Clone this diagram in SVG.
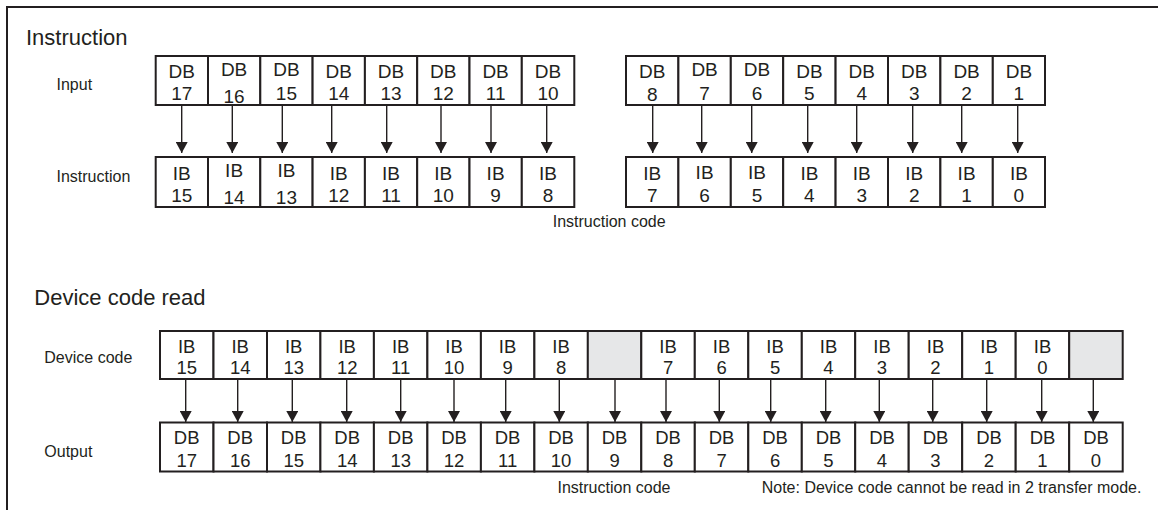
<svg xmlns="http://www.w3.org/2000/svg" width="1158" height="510" viewBox="0 0 1158 510">
<style>
text{font-family:"Liberation Sans",Arial,sans-serif;fill:#231f20}
.t{font-size:22px}
.l{font-size:16px}
.b{font-size:19px;text-anchor:middle}
.d{font-size:18.5px;text-anchor:middle}
.box{fill:#fff;stroke:#231f20;stroke-width:2}
.g{fill:#e6e7e8;stroke:#231f20;stroke-width:2}
.a{stroke:#231f20;stroke-width:1.4;fill:none;marker-end:url(#ah)}
</style>
<defs>
<marker id="ah" markerUnits="userSpaceOnUse" markerWidth="11" markerHeight="12" viewBox="0 0 11 12" refX="11" refY="6" orient="auto">
<path d="M0,0 L11,6 L0,12 Z" fill="#231f20"/>
</marker>
</defs>
<path d="M7,510 V7 H1158" fill="none" stroke="#231f20" stroke-width="2"/>
<text class="t" x="26" y="45">Instruction</text>
<text class="l" x="56.5" y="90">Input</text>
<text class="l" x="56.5" y="182">Instruction</text>
<text class="l" x="552.7" y="226.5">Instruction code</text>
<text class="t" x="34.3" y="305">Device code read</text>
<text class="l" x="44.3" y="363">Device code</text>
<text class="l" x="44.3" y="457">Output</text>
<text class="l" x="557.5" y="493">Instruction code</text>
<text class="l" x="761.7" y="493">Note: Device code cannot be read in 2 transfer mode.</text>

<g id="input-row">
<g id="in-db17"><rect class="box" x="155.7" y="56" width="52.3" height="49"/><text class="b" x="181.8" y="78">DB</text><text class="b" x="181.8" y="100">17</text></g>
<g id="in-db16"><rect class="box" x="208" y="56" width="52.3" height="49"/><text class="b" x="234.1" y="76">DB</text><text class="b" x="234.1" y="103">16</text></g>
<g id="in-db15"><rect class="box" x="260.3" y="56" width="52.3" height="49"/><text class="b" x="286.4" y="76">DB</text><text class="b" x="286.4" y="99.5">15</text></g>
<g id="in-db14"><rect class="box" x="312.6" y="56" width="52.3" height="49"/><text class="b" x="338.7" y="78">DB</text><text class="b" x="338.7" y="100">14</text></g>
<g id="in-db13"><rect class="box" x="364.9" y="56" width="52.3" height="49"/><text class="b" x="391" y="78">DB</text><text class="b" x="391" y="100">13</text></g>
<g id="in-db12"><rect class="box" x="417.2" y="56" width="52.3" height="49"/><text class="b" x="443.3" y="78">DB</text><text class="b" x="443.3" y="100">12</text></g>
<g id="in-db11"><rect class="box" x="469.5" y="56" width="52.3" height="49"/><text class="b" x="495.6" y="78">DB</text><text class="b" x="495.6" y="100">11</text></g>
<g id="in-db10"><rect class="box" x="521.8" y="56" width="52.5" height="49"/><text class="b" x="548" y="78">DB</text><text class="b" x="548" y="100">10</text></g>
<g id="in-db8"><rect class="box" x="626" y="56" width="52.4" height="49"/><text class="b" x="652.2" y="78">DB</text><text class="b" x="652.2" y="101">8</text></g>
<g id="in-db7"><rect class="box" x="678.4" y="56" width="52.4" height="49"/><text class="b" x="704.6" y="76">DB</text><text class="b" x="704.6" y="100">7</text></g>
<g id="in-db6"><rect class="box" x="730.8" y="56" width="52.4" height="49"/><text class="b" x="757" y="76">DB</text><text class="b" x="757" y="100">6</text></g>
<g id="in-db5"><rect class="box" x="783.2" y="56" width="52.4" height="49"/><text class="b" x="809.4" y="78">DB</text><text class="b" x="809.4" y="100">5</text></g>
<g id="in-db4"><rect class="box" x="835.6" y="56" width="52.4" height="49"/><text class="b" x="861.8" y="78">DB</text><text class="b" x="861.8" y="100">4</text></g>
<g id="in-db3"><rect class="box" x="888" y="56" width="52.4" height="49"/><text class="b" x="914.2" y="78">DB</text><text class="b" x="914.2" y="100">3</text></g>
<g id="in-db2"><rect class="box" x="940.4" y="56" width="52.4" height="49"/><text class="b" x="966.6" y="78">DB</text><text class="b" x="966.6" y="100">2</text></g>
<g id="in-db1"><rect class="box" x="992.8" y="56" width="52.2" height="49"/><text class="b" x="1018.9" y="78">DB</text><text class="b" x="1018.9" y="100">1</text></g>
</g>

<g id="instruction-row">
<g id="ins-ib15"><rect class="box" x="155.7" y="157" width="52.3" height="50"/><text class="b" x="181.8" y="180">IB</text><text class="b" x="181.8" y="201.5">15</text></g>
<g id="ins-ib14"><rect class="box" x="208" y="157" width="52.3" height="50"/><text class="b" x="234.1" y="177">IB</text><text class="b" x="234.1" y="204">14</text></g>
<g id="ins-ib13"><rect class="box" x="260.3" y="157" width="52.3" height="50"/><text class="b" x="286.4" y="177">IB</text><text class="b" x="286.4" y="204">13</text></g>
<g id="ins-ib12"><rect class="box" x="312.6" y="157" width="52.3" height="50"/><text class="b" x="338.7" y="180">IB</text><text class="b" x="338.7" y="201.5">12</text></g>
<g id="ins-ib11"><rect class="box" x="364.9" y="157" width="52.3" height="50"/><text class="b" x="391" y="180">IB</text><text class="b" x="391" y="201.5">11</text></g>
<g id="ins-ib10"><rect class="box" x="417.2" y="157" width="52.3" height="50"/><text class="b" x="443.3" y="180">IB</text><text class="b" x="443.3" y="201.5">10</text></g>
<g id="ins-ib9"><rect class="box" x="469.5" y="157" width="52.3" height="50"/><text class="b" x="495.6" y="180">IB</text><text class="b" x="495.6" y="201.5">9</text></g>
<g id="ins-ib8"><rect class="box" x="521.8" y="157" width="52.5" height="50"/><text class="b" x="548" y="180">IB</text><text class="b" x="548" y="201.5">8</text></g>
<g id="ins-ib7"><rect class="box" x="626" y="157" width="52.4" height="50"/><text class="b" x="652.2" y="180">IB</text><text class="b" x="652.2" y="201.5">7</text></g>
<g id="ins-ib6"><rect class="box" x="678.4" y="157" width="52.4" height="50"/><text class="b" x="704.6" y="179">IB</text><text class="b" x="704.6" y="201.5">6</text></g>
<g id="ins-ib5"><rect class="box" x="730.8" y="157" width="52.4" height="50"/><text class="b" x="757" y="179">IB</text><text class="b" x="757" y="201.5">5</text></g>
<g id="ins-ib4"><rect class="box" x="783.2" y="157" width="52.4" height="50"/><text class="b" x="809.4" y="180">IB</text><text class="b" x="809.4" y="201.5">4</text></g>
<g id="ins-ib3"><rect class="box" x="835.6" y="157" width="52.4" height="50"/><text class="b" x="861.8" y="180">IB</text><text class="b" x="861.8" y="201.5">3</text></g>
<g id="ins-ib2"><rect class="box" x="888" y="157" width="52.4" height="50"/><text class="b" x="914.2" y="180">IB</text><text class="b" x="914.2" y="201.5">2</text></g>
<g id="ins-ib1"><rect class="box" x="940.4" y="157" width="52.4" height="50"/><text class="b" x="966.6" y="180">IB</text><text class="b" x="966.6" y="201.5">1</text></g>
<g id="ins-ib0"><rect class="box" x="992.8" y="157" width="52.2" height="50"/><text class="b" x="1018.9" y="180">IB</text><text class="b" x="1018.9" y="201.5">0</text></g>
</g>

<g id="device-row">
<g id="dev-ib15"><rect class="box" x="160" y="331" width="53.5" height="48"/><text class="d" x="186.7" y="353">IB</text><text class="d" x="186.7" y="373.5">15</text></g>
<g id="dev-ib14"><rect class="box" x="213.5" y="331" width="53.5" height="48"/><text class="d" x="240.2" y="353">IB</text><text class="d" x="240.2" y="373.5">14</text></g>
<g id="dev-ib13"><rect class="box" x="267" y="331" width="53.5" height="48"/><text class="d" x="293.7" y="353">IB</text><text class="d" x="293.7" y="373.5">13</text></g>
<g id="dev-ib12"><rect class="box" x="320.4" y="331" width="53.5" height="48"/><text class="d" x="347.2" y="353">IB</text><text class="d" x="347.2" y="373.5">12</text></g>
<g id="dev-ib11"><rect class="box" x="373.9" y="331" width="53.5" height="48"/><text class="d" x="400.7" y="353">IB</text><text class="d" x="400.7" y="373.5">11</text></g>
<g id="dev-ib10"><rect class="box" x="427.4" y="331" width="53.5" height="48"/><text class="d" x="454.1" y="353">IB</text><text class="d" x="454.1" y="373.5">10</text></g>
<g id="dev-ib9"><rect class="box" x="480.9" y="331" width="53.5" height="48"/><text class="d" x="507.6" y="353">IB</text><text class="d" x="507.6" y="373.5">9</text></g>
<g id="dev-ib8"><rect class="box" x="534.4" y="331" width="53.5" height="48"/><text class="d" x="561.1" y="353">IB</text><text class="d" x="561.1" y="373.5">8</text></g>
<g id="dev-empty1"><rect class="g" x="587.8" y="331" width="53.5" height="48"/></g>
<g id="dev-ib7"><rect class="box" x="641.3" y="331" width="53.5" height="48"/><text class="d" x="668.1" y="353">IB</text><text class="d" x="668.1" y="373.5">7</text></g>
<g id="dev-ib6"><rect class="box" x="694.8" y="331" width="53.5" height="48"/><text class="d" x="721.6" y="353">IB</text><text class="d" x="721.6" y="373.5">6</text></g>
<g id="dev-ib5"><rect class="box" x="748.3" y="331" width="53.5" height="48"/><text class="d" x="775.1" y="353">IB</text><text class="d" x="775.1" y="373.5">5</text></g>
<g id="dev-ib4"><rect class="box" x="801.8" y="331" width="53.5" height="48"/><text class="d" x="828.5" y="353">IB</text><text class="d" x="828.5" y="373.5">4</text></g>
<g id="dev-ib3"><rect class="box" x="855.2" y="331" width="53.5" height="48"/><text class="d" x="882" y="353">IB</text><text class="d" x="882" y="373.5">3</text></g>
<g id="dev-ib2"><rect class="box" x="908.7" y="331" width="53.5" height="48"/><text class="d" x="935.5" y="353">IB</text><text class="d" x="935.5" y="373.5">2</text></g>
<g id="dev-ib1"><rect class="box" x="962.2" y="331" width="53.5" height="48"/><text class="d" x="989" y="353">IB</text><text class="d" x="989" y="373.5">1</text></g>
<g id="dev-ib0"><rect class="box" x="1015.7" y="331" width="53.5" height="48"/><text class="d" x="1042.5" y="353">IB</text><text class="d" x="1042.5" y="373.5">0</text></g>
<g id="dev-empty2"><rect class="g" x="1069.2" y="331" width="53.5" height="48"/></g>
</g>

<g id="output-row">
<g id="out-db17"><rect class="box" x="160" y="422.5" width="53.5" height="49"/><text class="d" x="186.7" y="443.5">DB</text><text class="d" x="186.7" y="466.5">17</text></g>
<g id="out-db16"><rect class="box" x="213.5" y="422.5" width="53.5" height="49"/><text class="d" x="240.2" y="443.5">DB</text><text class="d" x="240.2" y="466.5">16</text></g>
<g id="out-db15"><rect class="box" x="267" y="422.5" width="53.5" height="49"/><text class="d" x="293.7" y="443.5">DB</text><text class="d" x="293.7" y="466.5">15</text></g>
<g id="out-db14"><rect class="box" x="320.4" y="422.5" width="53.5" height="49"/><text class="d" x="347.2" y="443.5">DB</text><text class="d" x="347.2" y="466.5">14</text></g>
<g id="out-db13"><rect class="box" x="373.9" y="422.5" width="53.5" height="49"/><text class="d" x="400.7" y="443.5">DB</text><text class="d" x="400.7" y="466.5">13</text></g>
<g id="out-db12"><rect class="box" x="427.4" y="422.5" width="53.5" height="49"/><text class="d" x="454.1" y="443.5">DB</text><text class="d" x="454.1" y="466.5">12</text></g>
<g id="out-db11"><rect class="box" x="480.9" y="422.5" width="53.5" height="49"/><text class="d" x="507.6" y="443.5">DB</text><text class="d" x="507.6" y="466.5">11</text></g>
<g id="out-db10"><rect class="box" x="534.4" y="422.5" width="53.5" height="49"/><text class="d" x="561.1" y="443.5">DB</text><text class="d" x="561.1" y="466.5">10</text></g>
<g id="out-db9"><rect class="box" x="587.8" y="422.5" width="53.5" height="49"/><text class="d" x="614.6" y="443.5">DB</text><text class="d" x="614.6" y="466.5">9</text></g>
<g id="out-db8"><rect class="box" x="641.3" y="422.5" width="53.5" height="49"/><text class="d" x="668.1" y="443.5">DB</text><text class="d" x="668.1" y="466.5">8</text></g>
<g id="out-db7"><rect class="box" x="694.8" y="422.5" width="53.5" height="49"/><text class="d" x="721.6" y="443.5">DB</text><text class="d" x="721.6" y="466.5">7</text></g>
<g id="out-db6"><rect class="box" x="748.3" y="422.5" width="53.5" height="49"/><text class="d" x="775.1" y="443.5">DB</text><text class="d" x="775.1" y="466.5">6</text></g>
<g id="out-db5"><rect class="box" x="801.8" y="422.5" width="53.5" height="49"/><text class="d" x="828.5" y="443.5">DB</text><text class="d" x="828.5" y="466.5">5</text></g>
<g id="out-db4"><rect class="box" x="855.2" y="422.5" width="53.5" height="49"/><text class="d" x="882" y="443.5">DB</text><text class="d" x="882" y="466.5">4</text></g>
<g id="out-db3"><rect class="box" x="908.7" y="422.5" width="53.5" height="49"/><text class="d" x="935.5" y="443.5">DB</text><text class="d" x="935.5" y="466.5">3</text></g>
<g id="out-db2"><rect class="box" x="962.2" y="422.5" width="53.5" height="49"/><text class="d" x="989" y="443.5">DB</text><text class="d" x="989" y="466.5">2</text></g>
<g id="out-db1"><rect class="box" x="1015.7" y="422.5" width="53.5" height="49"/><text class="d" x="1042.5" y="443.5">DB</text><text class="d" x="1042.5" y="466.5">1</text></g>
<g id="out-db0"><rect class="box" x="1069.2" y="422.5" width="53.5" height="49"/><text class="d" x="1096" y="443.5">DB</text><text class="d" x="1096" y="466.5">0</text></g>
</g>

<g id="connectors">
<line class="a" x1="181.7" y1="106" x2="181.7" y2="153"/>
<line class="a" x1="232.3" y1="106" x2="232.3" y2="153"/>
<line class="a" x1="282.3" y1="106" x2="282.3" y2="153"/>
<line class="a" x1="331.7" y1="106" x2="331.7" y2="153"/>
<line class="a" x1="386.7" y1="106" x2="386.7" y2="153"/>
<line class="a" x1="441" y1="106" x2="441" y2="153"/>
<line class="a" x1="491" y1="106" x2="491" y2="153"/>
<line class="a" x1="546.7" y1="106" x2="546.7" y2="153"/>
<line class="a" x1="652.7" y1="106" x2="652.7" y2="153"/>
<line class="a" x1="701.7" y1="106" x2="701.7" y2="153"/>
<line class="a" x1="751.7" y1="106" x2="751.7" y2="153"/>
<line class="a" x1="807.7" y1="106" x2="807.7" y2="153"/>
<line class="a" x1="856.7" y1="106" x2="856.7" y2="153"/>
<line class="a" x1="912.7" y1="106" x2="912.7" y2="153"/>
<line class="a" x1="961.7" y1="106" x2="961.7" y2="153"/>
<line class="a" x1="1017.7" y1="106" x2="1017.7" y2="153"/>

<line class="a" x1="185.7" y1="380" x2="185.7" y2="422"/>
<line class="a" x1="237.7" y1="380" x2="237.7" y2="422"/>
<line class="a" x1="292.3" y1="380" x2="292.3" y2="422"/>
<line class="a" x1="346.7" y1="380" x2="346.7" y2="422"/>
<line class="a" x1="400.7" y1="380" x2="400.7" y2="422"/>
<line class="a" x1="454" y1="380" x2="454" y2="422"/>
<line class="a" x1="505.7" y1="380" x2="505.7" y2="422"/>
<line class="a" x1="559.3" y1="380" x2="559.3" y2="422"/>
<line class="a" x1="615" y1="380" x2="615" y2="422"/>
<line class="a" x1="666" y1="380" x2="666" y2="422"/>
<line class="a" x1="719.3" y1="380" x2="719.3" y2="422"/>
<line class="a" x1="770.7" y1="380" x2="770.7" y2="422"/>
<line class="a" x1="825.7" y1="380" x2="825.7" y2="422"/>
<line class="a" x1="879.3" y1="380" x2="879.3" y2="422"/>
<line class="a" x1="932.7" y1="380" x2="932.7" y2="422"/>
<line class="a" x1="986.7" y1="380" x2="986.7" y2="422"/>
<line class="a" x1="1041.7" y1="380" x2="1041.7" y2="422"/>
<line class="a" x1="1093.3" y1="380" x2="1093.3" y2="422"/>
</g>
</svg>
